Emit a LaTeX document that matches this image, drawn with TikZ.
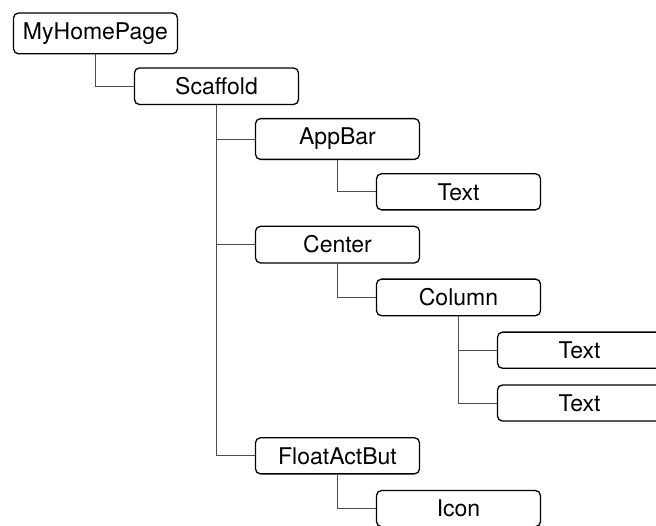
\documentclass[tikz,border=0pt]{standalone}
\usepackage{fontspec}
\setmainfont{TeX Gyre Heros}
\begin{document}
\begin{tikzpicture}[x=1pt,y=-1pt,
  box/.style={draw=black, fill=white, rounded corners=5pt, line width=1.3pt,
    minimum width=164pt, inner ysep=9.5pt, inner xsep=4pt,
    font=\fontsize{23}{27}\selectfont},
  link/.style={draw=black!70, line width=1pt}]
\useasboundingbox (0,0) rectangle (656,525);
\clip (0,0) rectangle (656,525);
\node[box] (home) at (95.5,33.4) {MyHomePage};
\node[box] (scaf) at (216.5,86.2) {Scaffold};
\node[box] (appbar) at (337.5,139) {AppBar};
\node[box] (text1) at (458.5,191.8) {Text};
\node[box] (center) at (337.5,244.6) {Center};
\node[box] (column) at (458.5,297.4) {Column};
\node[box] (text2) at (579.5,350.2) {Text};
\node[box] (text3) at (579.5,403) {Text};
\node[box] (fab) at (337.5,455.8) {FloatActBut};
\node[box] (icon) at (458.5,508.6) {Icon};
\begin{scope}[on background layer/.style={}]
\draw[link] (home.south) |- (scaf.west);
\draw[link] (scaf.south) |- (appbar.west);
\draw[link] (scaf.south) |- (center.west);
\draw[link] (scaf.south) |- (fab.west);
\draw[link] (appbar.south) |- (text1.west);
\draw[link] (center.south) |- (column.west);
\draw[link] (column.south) |- (text2.west);
\draw[link] (column.south) |- (text3.west);
\draw[link] (fab.south) |- (icon.west);
\end{scope}
\end{tikzpicture}
\end{document}
